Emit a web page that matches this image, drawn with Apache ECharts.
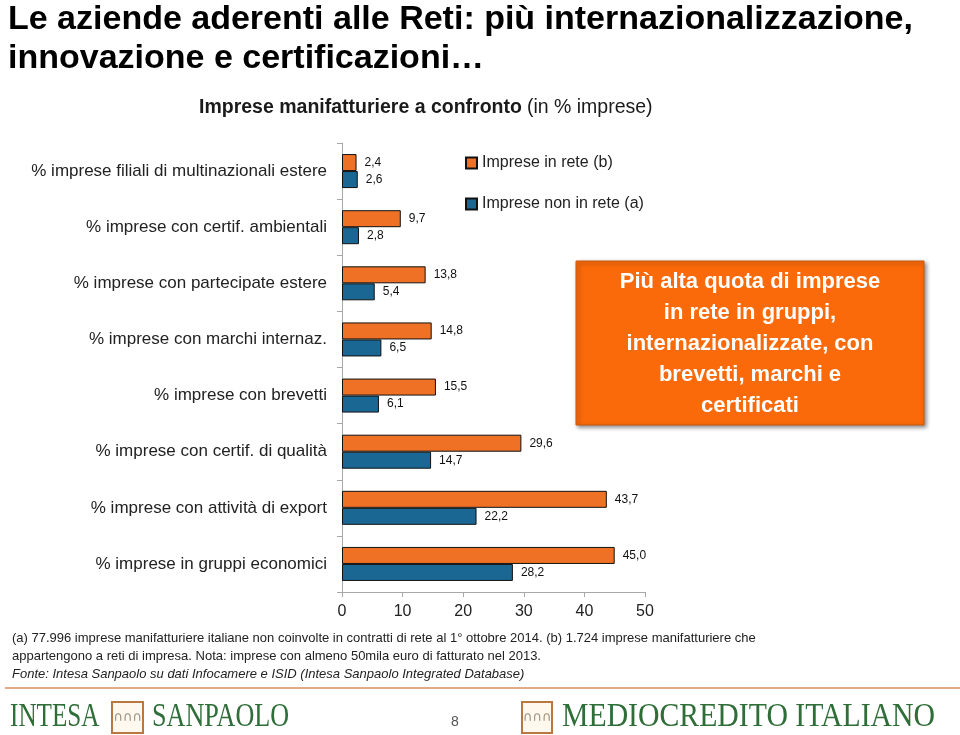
<!DOCTYPE html>
<html>
<head>
<meta charset="utf-8">
<script src="https://cdn.jsdelivr.net/npm/echarts@6/dist/echarts.min.js"></script>
<style>
html,body{margin:0;padding:0;background:#fff;}
#chart{width:960px;height:735px;}
</style>
</head>
<body>
<div id="chart"></div>
<script>
var categories = [
  "% imprese filiali di multinazionali estere",
  "% imprese con certif. ambientali",
  "% imprese con partecipate estere",
  "% imprese con marchi internaz.",
  "% imprese con brevetti",
  "% imprese con certif. di qualità",
  "% imprese con attività di export",
  "% imprese in gruppi economici"
];
var seriesNames = ["Imprese in rete (b)", "Imprese non in rete (a)"];
var inRete = [2.4, 9.7, 13.8, 14.8, 15.5, 29.6, 43.7, 45.0];
var nonInRete = [2.6, 2.8, 5.4, 6.5, 6.1, 14.7, 22.2, 28.2];
var xTicks = [0, 10, 20, 30, 40, 50];

var titleLines = "Le aziende aderenti alle Reti: più internazionalizzazione,\ninnovazione e certificazioni…";
var boxText = "Più alta quota di imprese\nin rete in gruppi,\ninternazionalizzate, con\nbrevetti, marchi e\ncertificati";
var footLine1 = "(a) 77.996 imprese manifatturiere italiane non coinvolte in contratti di rete al 1° ottobre 2014. (b) 1.724 imprese manifatturiere che";
var footLine2 = "appartengono a reti di impresa. Nota: imprese con almeno 50mila euro di fatturato nel 2013.";
var footSource = "Fonte: Intesa Sanpaolo su dati Infocamere e ISID (Intesa Sanpaolo Integrated Database)";

var chart = echarts.init(document.getElementById('chart'));
var fmt = function (p) { return p.value.toFixed(1).replace('.', ','); };
var labelCfg = { show: true, position: 'right', distance: 8, color: '#111', fontSize: 12, fontFamily: 'Arial, Liberation Sans', formatter: fmt };
var green = '#2F6E38';
var serif = '"Liberation Serif", "DejaVu Serif", serif';

var option = {
  backgroundColor: '#fff',
  animation: false,
  title: [
    { text: titleLines, left: 3, top: -5, textStyle: { fontFamily: 'Arial, Liberation Sans', fontWeight: 'bold', fontSize: 34, lineHeight: 39, color: '#000' } },
    { text: '{b|Imprese manifatturiere a confronto} {n|(in % imprese)}', left: 194, top: 93,
      textStyle: { rich: { b: { fontFamily: 'Arial', fontWeight: 'bold', fontSize: 19.5, color: '#1a1a1a' }, n: { fontFamily: 'Arial', fontWeight: 'normal', fontSize: 19.5, color: '#1a1a1a' } } } }
  ],
  legend: {
    data: seriesNames, orient: 'vertical', left: 460, top: 150, itemWidth: 11, itemHeight: 11, itemGap: 25, icon: 'rect',
    textStyle: { fontFamily: 'Arial', fontSize: 16, color: '#222' }
  },
  grid: { left: 342, right: 315, top: 143, bottom: 143, containLabel: false },
  xAxis: {
    type: 'value', min: 0, max: 50, interval: 10,
    axisLine: { show: true, lineStyle: { color: '#A8A8A8' } },
    axisTick: { show: true, length: 5, lineStyle: { color: '#A8A8A8' } },
    splitLine: { show: false },
    axisLabel: { fontFamily: 'Arial', fontSize: 16, color: '#222', margin: 12, formatter: function (v) { return xTicks.indexOf(v) >= 0 ? String(v) : ''; } }
  },
  yAxis: {
    type: 'category', data: categories, inverse: true,
    axisLine: { show: true, lineStyle: { color: '#A8A8A8' } },
    axisTick: { show: true, length: 5, lineStyle: { color: '#A8A8A8' } },
    axisLabel: { fontFamily: 'Arial', fontSize: 17, color: '#222', margin: 15 }
  },
  series: [
    { name: seriesNames[0], type: 'bar', data: inRete, barWidth: 17, barGap: '0%',
      itemStyle: { color: '#EF7125', borderColor: '#111', borderWidth: 1 }, label: labelCfg },
    { name: seriesNames[1], type: 'bar', data: nonInRete, barWidth: 17, barGap: '0%',
      itemStyle: { color: '#1A6794', borderColor: '#111', borderWidth: 1 }, label: labelCfg }
  ],
  graphic: [
    { type: 'rect', shape: { x: 576, y: 261, width: 348, height: 164 },
      style: { fill: '#FA6A0A', stroke: '#C85A10', lineWidth: 1, shadowBlur: 4, shadowOffsetX: 2, shadowOffsetY: 2, shadowColor: 'rgba(0,0,0,0.45)' } },
    { type: 'text', x: 750, y: 344,
      style: { text: boxText, fill: '#fff', font: 'bold 22px Arial', lineHeight: 31.2, align: 'center', verticalAlign: 'middle' } },
    { type: 'text', x: 12, y: 632, style: { text: footLine1, fill: '#222', font: '13px Arial' } },
    { type: 'text', x: 12, y: 650, style: { text: footLine2, fill: '#222', font: '13px Arial' } },
    { type: 'text', x: 12, y: 668, style: { text: footSource, fill: '#222', font: 'italic 13px Arial' } },
    { type: 'line', shape: { x1: 5, y1: 688, x2: 960, y2: 688 }, style: { stroke: '#E2A98A', lineWidth: 2 } },
    { type: 'text', x: 10, y: 700, scaleX: 0.74, style: { text: 'INTESA', fill: green, font: '34px ' + serif } },
    { type: 'rect', shape: { x: 112, y: 702, width: 31, height: 31 }, style: { fill: '#FFF8EE', stroke: '#B9783F', lineWidth: 2 } },
    { type: 'text', x: 127.5, y: 718, style: { text: '∩∩∩', fill: '#9A8F80', font: '13px DejaVu Sans', align: 'center', verticalAlign: 'middle' } },
    { type: 'text', x: 152, y: 700, scaleX: 0.77, style: { text: 'SANPAOLO', fill: green, font: '34px ' + serif } },
    { type: 'text', x: 455, y: 722, style: { text: '8', fill: '#555', font: '14px Arial', align: 'center', verticalAlign: 'middle' } },
    { type: 'rect', shape: { x: 522, y: 702, width: 30, height: 31 }, style: { fill: '#FFF8EE', stroke: '#B9783F', lineWidth: 2 } },
    { type: 'text', x: 537, y: 718, style: { text: '∩∩∩', fill: '#9A8F80', font: '13px DejaVu Sans', align: 'center', verticalAlign: 'middle' } },
    { type: 'text', x: 562, y: 700, scaleX: 0.875, style: { text: 'MEDIOCREDITO ITALIANO', fill: green, font: '34px ' + serif } }
  ]
};
chart.setOption(option);
</script>
</body>
</html>
